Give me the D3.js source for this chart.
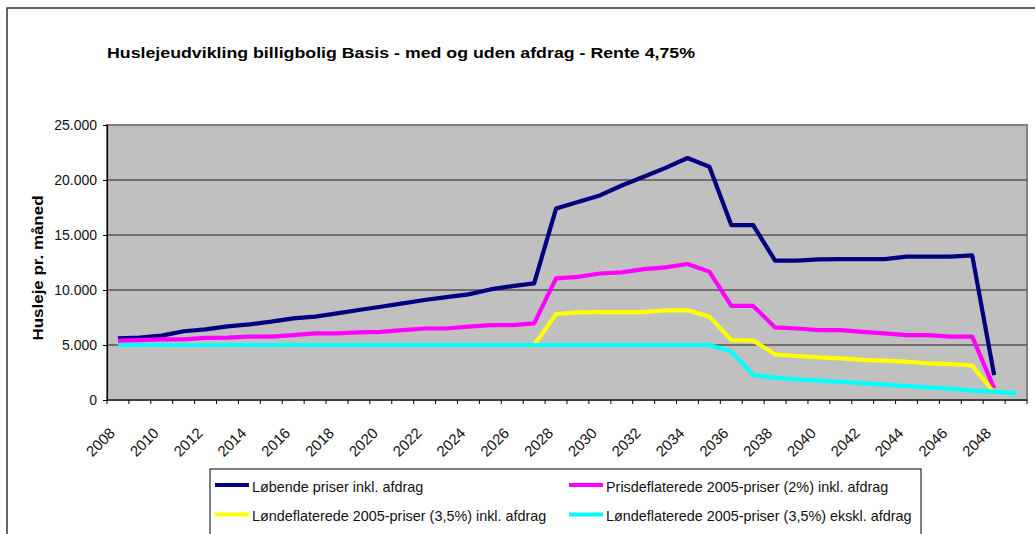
<!DOCTYPE html>
<html>
<head>
<meta charset="utf-8">
<script src="https://cdn.jsdelivr.net/npm/d3@7"></script>
<style>
  body { margin: 0; background: #fff; }
  text { font-family: "Liberation Sans", Arial, sans-serif; }
</style>
</head>
<body>
<div class="chart"></div>
<script>
// one category per year, labels every second year
var years = d3.range(2008, 2050);
var labelYears = d3.range(2008, 2049, 2);

var seriesNames = [
  "Løbende priser inkl. afdrag",
  "Prisdeflaterede 2005-priser (2%) inkl. afdrag",
  "Løndeflaterede 2005-priser (3,5%) inkl. afdrag",
  "Løndeflaterede 2005-priser (3,5%) ekskl. afdrag"
];

// (kr. per month)
var loebende = [5600, 5670, 5850, 6250, 6420, 6700, 6880, 7120, 7420, 7580,
  7880, 8180, 8480, 8790, 9090, 9350, 9600, 10050, 10350, 10600,
  17400, 18000, 18600, 19500, 20300, 21100, 22000, 21200,
  15900, 15900, 12670, 12670, 12790, 12800, 12800, 12800, 13030, 13030, 13030, 13150, 2270, null];
var prisdefl = [5390, 5450, 5520, 5520, 5640, 5670, 5760, 5760, 5900, 6060,
  6060, 6150, 6200, 6360, 6500, 6500, 6670, 6800, 6800, 6970,
  11060, 11200, 11500, 11600, 11900, 12060, 12360, 11670,
  8550, 8550, 6600, 6500, 6360, 6360, 6200, 6060, 5900, 5900, 5760, 5760, 1060, null];
var loendeflInkl = [5000, 5000, 5000, 5000, 5000, 5000, 5000, 5000, 5000, 5000,
  5000, 5000, 5000, 5000, 5000, 5000, 5000, 5000, 5000, 5000,
  7820, 7970, 7990, 7990, 7990, 8150, 8150, 7580,
  5450, 5400, 4150, 4000, 3880, 3790, 3640, 3580, 3480, 3330, 3270, 3120, 670, null];
var loendeflEkskl = [5000, 5000, 5000, 5000, 5000, 5000, 5000, 5000, 5000, 5000,
  5000, 5000, 5000, 5000, 5000, 5000, 5000, 5000, 5000, 5000,
  5000, 5000, 5000, 5000, 5000, 5000, 5000, 5000,
  4400, 2270, 2030, 1880, 1760, 1640, 1520, 1390, 1270, 1150, 1030, 850, 760, 600];

var yTicks = [0, 5000, 10000, 15000, 20000, 25000];
var colors = ["#000080", "#ff00ff", "#ffff00", "#00ffff"];

var allSeries = [loebende, prisdefl, loendeflInkl, loendeflEkskl];

var w = 1035;
var h = 534;
var pLeft = 107, pRight = 1027, pTop = 125, pBottom = 400;

var svg = d3.select(".chart")
  .append("svg")
  .attr("width", w)
  .attr("height", h);

// outer chart frame (runs off the right and bottom edge)
svg.append("rect")
  .attr("x", 7).attr("y", 8)
  .attr("width", 1100).attr("height", 700)
  .attr("fill", "#fff")
  .attr("stroke", "#333")
  .attr("stroke-width", 1.5);

var x = d3.scaleBand().domain(years).range([pLeft, pRight]).padding(0);
var y = d3.scaleLinear().domain([0, 25000]).range([pBottom, pTop]);

var dk = d3.formatLocale({decimal: ",", thousands: ".", grouping: [3], currency: ["", " kr"]});
var fmt = dk.format(",");

// plot area
svg.append("rect")
  .attr("x", pLeft).attr("y", pTop)
  .attr("width", pRight - pLeft).attr("height", pBottom - pTop)
  .attr("fill", "#c0c0c0")
  .attr("stroke", "#808080")
  .attr("stroke-width", 2);

// gridlines
svg.selectAll(".grid")
  .data(yTicks.filter(function(d){ return d > 0 && d < 25000; }))
  .enter()
  .append("line")
  .attr("x1", pLeft).attr("x2", pRight)
  .attr("y1", function(d){ return y(d); })
  .attr("y2", function(d){ return y(d); })
  .attr("stroke", "#555")
  .attr("stroke-width", 1.5);

// y axis
var yAxis = svg.append("g")
  .attr("transform", "translate(" + pLeft + ",0)")
  .call(d3.axisLeft(y).tickValues(yTicks).tickSize(4).tickPadding(6).tickFormat(fmt));
yAxis.select(".domain").attr("stroke", "#000").attr("stroke-width", 1.2);
yAxis.selectAll("text").attr("font-size", "14px").attr("fill", "#111")
  .attr("font-family", "Liberation Sans, Arial, sans-serif");

// x axis: ticks sit between categories
var xAxis = svg.append("g")
  .attr("transform", "translate(0," + pBottom + ")");
xAxis.append("line")
  .attr("x1", pLeft).attr("x2", pRight)
  .attr("stroke", "#000").attr("stroke-width", 1.2);
xAxis.selectAll(".tk")
  .data(years.concat([2050]))
  .enter()
  .append("line")
  .attr("x1", function(d, i){ return pLeft + i * x.bandwidth(); })
  .attr("x2", function(d, i){ return pLeft + i * x.bandwidth(); })
  .attr("y1", 0).attr("y2", 4)
  .attr("stroke", "#000");

svg.selectAll(".xl")
  .data(labelYears)
  .enter()
  .append("text")
  .text(function(d){ return d; })
  .attr("text-anchor", "end")
  .attr("font-size", "15px")
  .attr("fill", "#111")
  .attr("transform", function(d){
    var cx = x(d) + x.bandwidth() / 2 - 2;
    return "translate(" + cx + ",434) rotate(-45)";
  });

// lines
var line = d3.line()
  .defined(function(d){ return d != null; })
  .x(function(d, i){ return x(years[i]) + x.bandwidth() / 2; })
  .y(function(d){ return y(d); });

svg.selectAll(".serie")
  .data(allSeries)
  .enter()
  .append("path")
  .attr("d", line)
  .attr("fill", "none")
  .attr("stroke", function(d, i){ return colors[i]; })
  .attr("stroke-width", 4.2)
  .attr("stroke-linejoin", "round");

// title
svg.append("text")
  .text("Huslejeudvikling billigbolig Basis - med og uden afdrag - Rente 4,75%")
  .attr("x", 107).attr("y", 58)
  .attr("font-size", "15px")
  .attr("font-weight", "bold")
  .attr("textLength", 588)
  .attr("lengthAdjust", "spacingAndGlyphs");

// y title
svg.append("text")
  .text("Husleje pr. måned")
  .attr("transform", "translate(43,268) rotate(-90)")
  .attr("text-anchor", "middle")
  .attr("font-size", "14px")
  .attr("font-weight", "bold")
  .attr("textLength", 145)
  .attr("lengthAdjust", "spacingAndGlyphs");

// legend
var legend = svg.append("g");
legend.append("rect")
  .attr("x", 210).attr("y", 469)
  .attr("width", 711).attr("height", 100)
  .attr("fill", "#fff")
  .attr("stroke", "#000")
  .attr("stroke-width", 1);

var legPos = [[215, 491.5], [569, 491.5], [215, 521], [569, 521]];
var items = legend.selectAll(".item")
  .data(seriesNames)
  .enter()
  .append("g")
  .attr("transform", function(d, i){ return "translate(" + legPos[i][0] + "," + legPos[i][1] + ")"; });
items.append("line")
  .attr("x1", 0).attr("x2", 34)
  .attr("y1", -6.5).attr("y2", -6.5)
  .attr("stroke", function(d, i){ return colors[i]; })
  .attr("stroke-width", 4);
items.append("text")
  .text(function(d){ return d; })
  .attr("x", 37)
  .attr("font-size", "14.4px")
  .attr("fill", "#111");
</script>
</body>
</html>
